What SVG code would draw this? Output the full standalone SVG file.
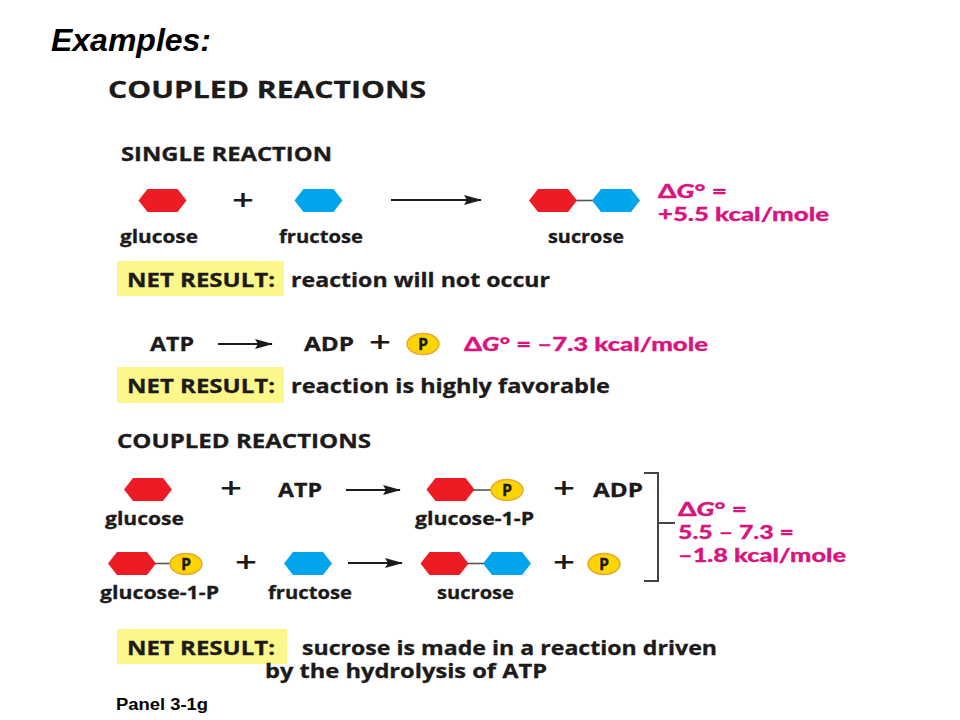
<svg xmlns="http://www.w3.org/2000/svg" width="960" height="720" viewBox="0 0 960 720">
<style>
text{font-family:"Open Sans","Noto Sans","Liberation Sans",sans-serif;font-weight:700;fill:#1c1a1a;stroke:#1c1a1a;stroke-width:.3;font-size:18px}
.h{font-size:19px}
.m{font-family:Lato,"Open Sans",sans-serif;font-weight:900;fill:#d8157f;stroke:#d8157f;font-size:19px}
.i{font-style:italic}
.sl{font-family:"Liberation Sans",Arial,sans-serif;fill:#000;stroke:none}
.plus{font-size:28px;font-weight:600;stroke:none;text-anchor:middle}
.r{fill:#ed1c24}.b{fill:#00a5ec}
.y{fill:#fcf78b}
.link{stroke:#555;stroke-width:1.6;fill:none}
.br{stroke:#444;stroke-width:2;fill:none}
.arr{stroke:#1c1a1a;stroke-width:2;fill:none;marker-end:url(#ah)}
.p{fill:#ffd400;stroke:#e8a92a;stroke-width:1.5}
.pt{font-size:16px;text-anchor:middle}
</style>
<defs>
<marker id="ah" markerUnits="userSpaceOnUse" markerWidth="18" markerHeight="10" refX="17" refY="5" orient="auto"><path d="M0 0L18 5L0 10L3 5Z" fill="#1c1a1a"/></marker>
<polygon id="hex" points="-24,0 -15,-11.500 15,-11.500 24,0 15,11.500 -15,11.500"/>
<g id="pc"><ellipse rx="16" ry="10.500" class="p"/><text y="6" class="pt">P</text></g>
</defs>
<rect width="960" height="720" fill="#fff"/>
<text id="examples" class="sl i" x="51" y="51" style="font-size:31px" textLength="160" lengthAdjust="spacingAndGlyphs">Examples:</text>
<text id="title" x="108" y="98" style="font-size:23px" textLength="318" lengthAdjust="spacingAndGlyphs">COUPLED REACTIONS</text>
<text id="single" class="h" x="121" y="161" textLength="211" lengthAdjust="spacingAndGlyphs">SINGLE REACTION</text>

<g id="connectors">
<line class="arr" x1="391" y1="200" x2="481" y2="200"/>
<line class="arr" x1="218" y1="344" x2="272" y2="344"/>
<line class="arr" x1="346" y1="490" x2="400" y2="490"/>
<line class="arr" x1="348" y1="563" x2="402" y2="563"/>
<path class="br" d="M644 473H658V581H644M658 523H675"/>
</g>

<g id="row1-glucose"><use href="#hex" class="r" x="162.500" y="200.500"/><text x="120" y="243" textLength="78" lengthAdjust="spacingAndGlyphs">glucose</text></g>
<text id="row1-plus" class="plus" x="243" y="210" textLength="22" lengthAdjust="spacingAndGlyphs">+</text>
<g id="row1-fructose"><use href="#hex" class="b" x="318.500" y="200.500"/><text x="279" y="243" textLength="84" lengthAdjust="spacingAndGlyphs">fructose</text></g>
<g id="row1-sucrose"><line class="link" x1="575" y1="200.500" x2="595" y2="200.500"/><use href="#hex" class="r" x="553" y="200.500"/><use href="#hex" class="b" x="616" y="200.500"/><text x="548" y="243" textLength="76" lengthAdjust="spacingAndGlyphs">sucrose</text></g>
<g id="dg1"><text class="m" x="658" y="198" textLength="69" lengthAdjust="spacingAndGlyphs">Δ<tspan class="i">G</tspan>° =</text><text class="m" x="658" y="221" textLength="171" lengthAdjust="spacingAndGlyphs">+5.5 kcal/mole</text></g>

<g id="net1"><rect class="y" x="117" y="261" width="167" height="35"/><text class="h" x="127" y="287" textLength="148" lengthAdjust="spacingAndGlyphs">NET RESULT:</text><text class="h" x="291" y="287" textLength="259" lengthAdjust="spacingAndGlyphs">reaction will not occur</text></g>

<text id="atp1" class="h" x="150" y="351" textLength="44" lengthAdjust="spacingAndGlyphs">ATP</text>
<text id="adp1" class="h" x="304" y="351" textLength="50" lengthAdjust="spacingAndGlyphs">ADP</text>
<text id="plus2" class="plus" x="380" y="352" textLength="22" lengthAdjust="spacingAndGlyphs">+</text>
<use id="p1" href="#pc" x="423" y="344"/>
<text id="dg2" class="m" x="464" y="351" textLength="244" lengthAdjust="spacingAndGlyphs">Δ<tspan class="i">G</tspan>° = –7.3 kcal/mole</text>

<g id="net2"><rect class="y" x="117" y="367" width="167" height="36"/><text class="h" x="127" y="393" textLength="148" lengthAdjust="spacingAndGlyphs">NET RESULT:</text><text class="h" x="291" y="393" textLength="319" lengthAdjust="spacingAndGlyphs">reaction is highly favorable</text></g>

<text id="coupled" class="h" x="117" y="448" textLength="254" lengthAdjust="spacingAndGlyphs">COUPLED REACTIONS</text>

<g id="c1-glucose"><use href="#hex" class="r" x="148" y="489.500"/><text x="105" y="525" textLength="79" lengthAdjust="spacingAndGlyphs">glucose</text></g>
<text id="c1-plus1" class="plus" x="231" y="498" textLength="22" lengthAdjust="spacingAndGlyphs">+</text>
<text id="c1-atp" class="h" x="278" y="497" textLength="44" lengthAdjust="spacingAndGlyphs">ATP</text>
<g id="c1-g1p"><line class="link" x1="470" y1="490" x2="492" y2="490"/><use href="#hex" class="r" x="450.500" y="489.500"/><use href="#pc" x="507" y="490"/><text x="415" y="525" textLength="119" lengthAdjust="spacingAndGlyphs">glucose-1-P</text></g>
<text id="c1-plus2" class="plus" x="564" y="498" textLength="22" lengthAdjust="spacingAndGlyphs">+</text>
<text id="c1-adp" class="h" x="593" y="497" textLength="50" lengthAdjust="spacingAndGlyphs">ADP</text>

<g id="c2-g1p"><line class="link" x1="150" y1="563.500" x2="172" y2="563.500"/><use href="#hex" class="r" x="132" y="563.500"/><use href="#pc" x="186" y="564"/><text x="100" y="599" textLength="119" lengthAdjust="spacingAndGlyphs">glucose-1-P</text></g>
<text id="c2-plus1" class="plus" x="246" y="572" textLength="22" lengthAdjust="spacingAndGlyphs">+</text>
<g id="c2-fructose"><use href="#hex" class="b" x="308" y="563.500"/><text x="268" y="599" textLength="84" lengthAdjust="spacingAndGlyphs">fructose</text></g>
<g id="c2-sucrose"><line class="link" x1="464" y1="563.500" x2="488" y2="563.500"/><use href="#hex" class="r" x="444.500" y="563.500"/><use href="#hex" class="b" x="507" y="563.500"/><text x="437" y="599" textLength="77" lengthAdjust="spacingAndGlyphs">sucrose</text></g>
<text id="c2-plus2" class="plus" x="564" y="572" textLength="22" lengthAdjust="spacingAndGlyphs">+</text>
<use id="c2-p" href="#pc" x="604" y="564"/>

<g id="dg3"><text class="m" x="678" y="516" textLength="69" lengthAdjust="spacingAndGlyphs">Δ<tspan class="i">G</tspan>° =</text><text class="m" x="678" y="539" textLength="116" lengthAdjust="spacingAndGlyphs">5.5 – 7.3 =</text><text class="m" x="678" y="562" textLength="168" lengthAdjust="spacingAndGlyphs">–1.8 kcal/mole</text></g>

<g id="net3"><rect class="y" x="117" y="629" width="170" height="35"/><text class="h" x="127" y="655" textLength="148" lengthAdjust="spacingAndGlyphs">NET RESULT:</text><text class="h" x="302" y="655" textLength="415" lengthAdjust="spacingAndGlyphs">sucrose is made in a reaction driven</text><text class="h" x="265" y="678" textLength="282" lengthAdjust="spacingAndGlyphs">by the hydrolysis of ATP</text></g>

<text id="panel" class="sl" x="116" y="710" style="font-size:16px" textLength="92" lengthAdjust="spacingAndGlyphs">Panel 3-1g</text>
</svg>
